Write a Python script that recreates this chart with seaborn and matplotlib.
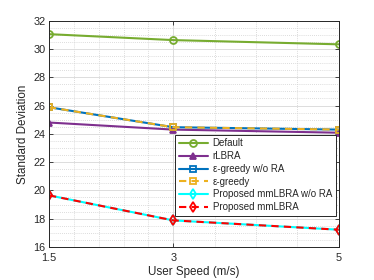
import matplotlib
matplotlib.use("Agg")
import matplotlib.pyplot as plt
from matplotlib.ticker import FixedLocator, MultipleLocator
import seaborn as sns
import pandas as pd

speeds = [1.5, 3, 5]
default_vals = [31.05, 30.63, 30.33]
rlbra_vals = [24.8, 24.3, 24.08]
eg_wo_ra_vals = [25.88, 24.47, 24.3]
eg_vals = [25.88, 24.47, 24.3]
mm_wo_ra_vals = [19.65, 17.88, 17.22]
mm_vals = [19.65, 17.88, 17.22]

labels = ["Default", "rLBRA", "\u03b5-greedy w/o RA", "\u03b5-greedy",
          "Proposed mmLBRA w/o RA", "Proposed mmLBRA"]
series = [default_vals, rlbra_vals, eg_wo_ra_vals, eg_vals, mm_wo_ra_vals, mm_vals]
colors = ["#77AC30", "#7E2F8E", "#0072BD", "#EDB120", "#00FFFF", "#FF0000"]
markers = ["o", "^", "s", "s", "d", "d"]
styles = ["-", "-", "-", (0, (3.5, 2.5)), "-", (0, (3.5, 2.5))]
filled = [False, True, False, False, False, False]

sns.set_theme(style="white")
plt.rcParams["font.family"] = ["Liberation Sans", "DejaVu Sans"]

fig = plt.figure(figsize=(3.74, 2.8), dpi=100)
ax = fig.add_axes([0.131, 0.118, 0.775, 0.808])

for lab, vals, c, m, ls, f in zip(labels, series, colors, markers, styles, filled):
    df = pd.DataFrame({"x": speeds, "y": vals})
    sns.lineplot(data=df, x="x", y="y", ax=ax, color=c, linewidth=1.5,
                 linestyle=ls, marker=m, markersize=5,
                 markerfacecolor=(c if f else "none"), markeredgecolor=c,
                 markeredgewidth=1.3, label=lab)

ax.set_xlim(1.5, 5)
ax.set_ylim(16, 32)
ax.set_xticks(speeds)
ax.set_xticklabels(["1.5", "3", "5"])
ax.yaxis.set_major_locator(MultipleLocator(2))
ax.xaxis.set_minor_locator(FixedLocator([1.8, 2.1, 2.4, 2.7, 3.5, 4.0, 4.5]))
ax.yaxis.set_minor_locator(MultipleLocator(0.5))

ax.grid(which="major", color="#dcdcdc", linewidth=0.7, linestyle="-")
ax.grid(which="minor", color="#d0d0d0", linewidth=0.6, linestyle=(0, (1, 1.5)))
ax.set_axisbelow(True)

for s in ax.spines.values():
    s.set_visible(True)
    s.set_color("#262626")
    s.set_linewidth(0.7)

ax.tick_params(which="major", direction="in", length=3, width=0.6,
               colors="#262626", labelsize=7.8, top=True, right=True,
               bottom=True, left=True)
ax.tick_params(axis="x", which="major", pad=4.5)
ax.tick_params(axis="y", which="major", pad=2.5)
ax.tick_params(which="minor", direction="in", length=0)

ax.set_xlabel("User Speed (m/s)", fontsize=8.4, color="#262626", labelpad=2)
ax.set_ylabel("Standard Deviation", fontsize=8.4, color="#262626", labelpad=3)

leg = ax.legend(loc="lower right", bbox_to_anchor=(0.99, 0.137), fontsize=7,
                frameon=True, fancybox=False, shadow=False, framealpha=1,
                edgecolor="#262626", handlelength=3.0, handletextpad=0.5,
                labelspacing=0.28, borderpad=0.4, borderaxespad=0)
leg.get_frame().set_linewidth(0.7)

fig.savefig("out.png", dpi=100)
